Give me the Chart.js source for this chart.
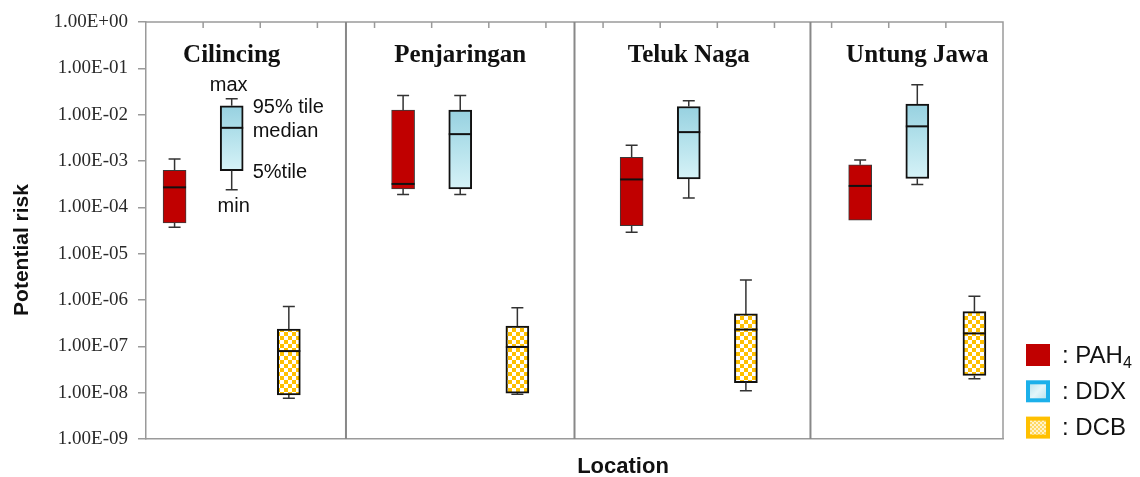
<!DOCTYPE html>
<html>
<head>
<meta charset="utf-8">
<script src="https://cdn.jsdelivr.net/npm/chart.js@4.4.1/dist/chart.umd.min.js"></script>
<style>
  html, body { margin: 0; padding: 0; background: #fff; }
  canvas { display: block; }
</style>
</head>
<body>
<canvas id="risk" width="1140" height="477"></canvas>
<script>
// Sampling locations and contaminant groups
const locations = ['Cilincing', 'Penjaringan', 'Teluk Naga', 'Untung Jawa'];
const seriesNames = ['PAH4', 'DDX', 'DCB'];
const yTickLabels = ['1.00E+00', '1.00E-01', '1.00E-02', '1.00E-03', '1.00E-04',
                     '1.00E-05', '1.00E-06', '1.00E-07', '1.00E-08', '1.00E-09'];
const statLabels = ['max', '95% tile', 'median', '5%tile', 'min'];

// Potential risk statistics, one value per location
const pahMin    = [3.7e-5, 1.9e-4, 2.9e-5, 5.3e-5];
const pahP5     = [4.6e-5, 2.5e-4, 4.0e-5, 5.3e-5];
const pahMedian = [2.7e-4, 3.2e-4, 4.0e-4, 2.9e-4];
const pahP95    = [6.3e-4, 1.25e-2, 1.2e-3, 8.3e-4];
const pahMax    = [1.1e-3, 2.6e-2, 2.2e-3, 1.05e-3];

const ddxMin    = [2.4e-4, 1.9e-4, 1.6e-4, 3.1e-4];
const ddxP5     = [6.2e-4, 2.5e-4, 4.1e-4, 4.2e-4];
const ddxMedian = [5.2e-3, 3.8e-3, 4.2e-3, 5.6e-3];
const ddxP95    = [1.55e-2, 1.25e-2, 1.5e-2, 1.7e-2];
const ddxMax    = [2.2e-2, 2.6e-2, 2.0e-2, 4.4e-2];

const dcbMin    = [7.6e-9, 9.3e-9, 1.1e-8, 2.0e-8];
const dcbP5     = [8.9e-9, 9.8e-9, 1.65e-8, 2.35e-8];
const dcbMedian = [7.9e-8, 9.7e-8, 2.3e-7, 1.9e-7];
const dcbP95    = [2.35e-7, 2.75e-7, 5.0e-7, 5.6e-7];
const dcbMax    = [7.2e-7, 6.8e-7, 2.7e-6, 1.2e-6];

// Group separators sit in the empty slot between locations
const separatorSlots = [3, 7, 11.13];

const stats = [
  { min: pahMin, p5: pahP5, median: pahMedian, p95: pahP95, max: pahMax },
  { min: ddxMin, p5: ddxP5, median: ddxMedian, p95: ddxP95, max: ddxMax },
  { min: dcbMin, p5: dcbP5, median: dcbMedian, p95: dcbP95, max: dcbMax }
];

// Slot layout: three series per location, one empty slot between locations
const slotLabels = [];
const slotLocation = [];
const slotSeries = [];
locations.forEach((loc, li) => {
  seriesNames.forEach((s, si) => {
    slotLabels.push(loc + ' ' + s);
    slotLocation.push(li);
    slotSeries.push(si);
  });
  if (li < locations.length - 1) {
    slotLabels.push(' '.repeat(li + 1));
    slotLocation.push(null);
    slotSeries.push(null);
  }
});
const slotOf = (li, si) => li * (seriesNames.length + 1) + si;

// Fill styles
function checkerPattern(size, colA, colB) {
  const c = document.createElement('canvas');
  c.width = size * 2; c.height = size * 2;
  const g = c.getContext('2d');
  g.fillStyle = colB; g.fillRect(0, 0, size * 2, size * 2);
  g.fillStyle = colA;
  g.fillRect(0, 0, size, size);
  g.fillRect(size, size, size, size);
  return g.createPattern(c, 'repeat');
}
const dcbFill = checkerPattern(4, '#FFC000', '#FFFFFF');

function glassFill(ctx) {
  const chart = ctx.chart;
  const raw = ctx.raw;
  if (!chart.chartArea || !raw || !chart.scales.y) return '#b5e2ec';
  const y = chart.scales.y;
  const top = y.getPixelForValue(raw[1]);
  const bottom = y.getPixelForValue(raw[0]);
  const grd = chart.ctx.createLinearGradient(0, top, 0, bottom);
  grd.addColorStop(0, '#97d1e0');
  grd.addColorStop(0.45, '#b3e1eb');
  grd.addColorStop(1, '#d6f2f7');
  return grd;
}

const seriesStyle = [
  { bg: '#C00000', border: '#3a3a3a', width: 1 },
  { bg: glassFill, border: '#111111', width: 2 },
  { bg: dcbFill, border: '#111111', width: 2 }
];

const datasets = seriesNames.map((name, si) => {
  const data = slotLabels.map(() => null);
  locations.forEach((loc, li) => {
    data[slotOf(li, si)] = [stats[si].p5[li], stats[si].p95[li]];
  });
  return {
    label: name,
    data,
    grouped: false,
    barThickness: 23,
    backgroundColor: seriesStyle[si].bg,
    borderColor: seriesStyle[si].border,
    borderWidth: seriesStyle[si].width,
    borderSkipped: false
  };
});

const frameColor = '#9a9a9a';

// Plot frame, inner tick marks along the top and the location separators
const framePlugin = {
  id: 'frame',
  beforeDatasetsDraw(chart) {
    const { ctx, chartArea: a, scales: { x } } = chart;
    ctx.save();
    ctx.strokeStyle = frameColor;
    ctx.lineWidth = 1.5;
    ctx.beginPath();
    ctx.moveTo(a.left, a.top); ctx.lineTo(a.right, a.top); ctx.lineTo(a.right, a.bottom);
    ctx.stroke();
    ctx.beginPath();
    for (let i = 0; i < slotLabels.length - 1; i++) {
      const px = x.getPixelForValue(i + 0.5);
      ctx.moveTo(px, a.top); ctx.lineTo(px, a.top + 6);
    }
    ctx.stroke();
    ctx.strokeStyle = '#888888';
    ctx.lineWidth = 2;
    ctx.beginPath();
    separatorSlots.forEach(s => {
      const px = x.getPixelForValue(s);
      ctx.moveTo(px, a.top); ctx.lineTo(px, a.bottom);
    });
    ctx.stroke();
    ctx.restore();
  }
};

// Whiskers, caps and median lines for every box
const whiskerPlugin = {
  id: 'whiskers',
  afterDatasetsDraw(chart) {
    const { ctx, scales: { y } } = chart;
    ctx.save();
    seriesNames.forEach((name, si) => {
      const meta = chart.getDatasetMeta(si);
      const st = stats[si];
      locations.forEach((loc, li) => {
        const bar = meta.data[slotOf(li, si)];
        if (!bar) return;
        const { x, width } = bar.getProps(['x', 'width'], true);
        const yMax = y.getPixelForValue(st.max[li]);
        const yP95 = y.getPixelForValue(st.p95[li]);
        const yP5 = y.getPixelForValue(st.p5[li]);
        const yMin = y.getPixelForValue(st.min[li]);
        const yMed = y.getPixelForValue(st.median[li]);
        const cap = 6;
        ctx.strokeStyle = '#333333';
        ctx.lineWidth = 1.5;
        ctx.beginPath();
        if (st.max[li] > st.p95[li]) {
          ctx.moveTo(x, yP95); ctx.lineTo(x, yMax);
          ctx.moveTo(x - cap, yMax); ctx.lineTo(x + cap, yMax);
        }
        if (st.min[li] < st.p5[li]) {
          ctx.moveTo(x, yP5); ctx.lineTo(x, yMin);
          ctx.moveTo(x - cap, yMin); ctx.lineTo(x + cap, yMin);
        }
        ctx.stroke();
        ctx.strokeStyle = '#111111';
        ctx.lineWidth = 2;
        ctx.beginPath();
        ctx.moveTo(x - width / 2, yMed); ctx.lineTo(x + width / 2, yMed);
        ctx.stroke();
      });
    });
    ctx.restore();
  }
};

// Location titles, axis titles, statistic key and legend
const textPlugin = {
  id: 'texts',
  afterDraw(chart) {
    const { ctx, chartArea: a, scales: { x, y } } = chart;
    ctx.save();
    ctx.fillStyle = '#111111';

    // location names over each group
    ctx.font = 'bold 25px "Liberation Serif", "Times New Roman", serif';
    ctx.textAlign = 'center';
    ctx.textBaseline = 'alphabetic';
    locations.forEach((loc, li) => {
      ctx.fillText(loc, x.getPixelForValue(slotOf(li, 1)), a.top + 40);
    });

    // statistic key on the first DDX box
    const kSi = 1, kLi = 0;
    const st = stats[kSi];
    const kx = x.getPixelForValue(slotOf(kLi, kSi));
    const right = kx + 21;
    ctx.font = '20px "Liberation Sans", Arial, sans-serif';
    ctx.textBaseline = 'middle';
    ctx.textAlign = 'center';
    ctx.fillText(statLabels[0], kx - 3, y.getPixelForValue(st.max[kLi]) - 13);
    ctx.textAlign = 'left';
    ctx.fillText(statLabels[1], right, y.getPixelForValue(st.p95[kLi]) + 2);
    ctx.fillText(statLabels[2], right, y.getPixelForValue(st.median[kLi]) + 4);
    ctx.fillText(statLabels[3], right, y.getPixelForValue(st.p5[kLi]) + 2);
    ctx.textAlign = 'center';
    ctx.fillText(statLabels[4], kx + 2, y.getPixelForValue(st.min[kLi]) + 17);

    // axis titles
    ctx.font = 'bold 22px "Liberation Sans", Arial, sans-serif';
    ctx.textAlign = 'center';
    ctx.fillText('Location', 623, 467);
    ctx.save();
    ctx.translate(22, 250);
    ctx.rotate(-Math.PI / 2);
    ctx.font = 'bold 21px "Liberation Sans", Arial, sans-serif';
    ctx.fillText('Potential risk', 0, 0);
    ctx.restore();

    // legend
    const lx = 1026, ly0 = 355, step = 36.3, bw = 24, bh = 22;
    seriesNames.forEach((name, si) => {
      const cy = ly0 + si * step;
      const bx = lx, by = cy - bh / 2;
      if (si === 0) {
        ctx.fillStyle = '#C00000';
        ctx.fillRect(bx, by, bw, bh);
      } else if (si === 1) {
        ctx.fillStyle = '#1cb0ea';
        ctx.fillRect(bx, by, bw, bh);
        const g = ctx.createLinearGradient(bx, by, bx + bw, by + bh);
        g.addColorStop(0, '#a8dbe8'); g.addColorStop(0.5, '#e4f6fa'); g.addColorStop(1, '#a8dbe8');
        ctx.fillStyle = g;
        ctx.fillRect(bx + 4, by + 4, bw - 8, bh - 8);
      } else {
        ctx.fillStyle = '#FFC000';
        ctx.fillRect(bx, by, bw, bh);
        ctx.fillStyle = checkerPattern(2, '#FFD966', '#FFF3CC');
        ctx.fillRect(bx + 4, by + 4, bw - 8, bh - 8);
      }
      ctx.fillStyle = '#111111';
      ctx.textAlign = 'left';
      ctx.textBaseline = 'middle';
      ctx.font = '24px "Liberation Sans", Arial, sans-serif';
      const m = name.match(/^(\D+)(\d+)$/);
      const main = ': ' + (m ? m[1] : name);
      ctx.fillText(main, lx + 36, cy + 1);
      if (m) {
        const w = ctx.measureText(main).width;
        ctx.font = '16px "Liberation Sans", Arial, sans-serif';
        ctx.fillText(m[2], lx + 36 + w, cy + 9);
      }
    });
    ctx.restore();
  }
};

new Chart(document.getElementById('risk'), {
  type: 'bar',
  data: { labels: slotLabels, datasets },
  options: {
    responsive: false,
    animation: false,
    devicePixelRatio: 1,
    layout: { padding: { left: 0, top: 22, right: 137, bottom: 38 } },
    plugins: { legend: { display: false }, tooltip: { enabled: false } },
    scales: {
      x: {
        type: 'category',
        offset: true,
        grid: { display: false, drawTicks: false },
        ticks: { display: false },
        border: { display: true, color: frameColor, width: 1.5 },
        afterFit: s => { s.height = 0; }
      },
      y: {
        type: 'logarithmic',
        min: 1e-9,
        max: 1,
        afterBuildTicks: s => {
          s.ticks = yTickLabels.map((_, i) => ({ value: Math.pow(10, -i) }));
        },
        ticks: {
          autoSkip: false,
          padding: 10,
          color: '#2a2a2a',
          font: { family: '"Liberation Serif", "Times New Roman", serif', size: 19 },
          callback: v => yTickLabels[Math.round(-Math.log10(v))]
        },
        grid: { drawOnChartArea: false, drawTicks: true, tickLength: 8, color: frameColor, lineWidth: 1.5 },
        border: { display: true, color: frameColor, width: 1.5 },
        afterFit: s => { s.width = 146; }
      }
    }
  },
  plugins: [framePlugin, whiskerPlugin, textPlugin]
});
</script>
</body>
</html>
